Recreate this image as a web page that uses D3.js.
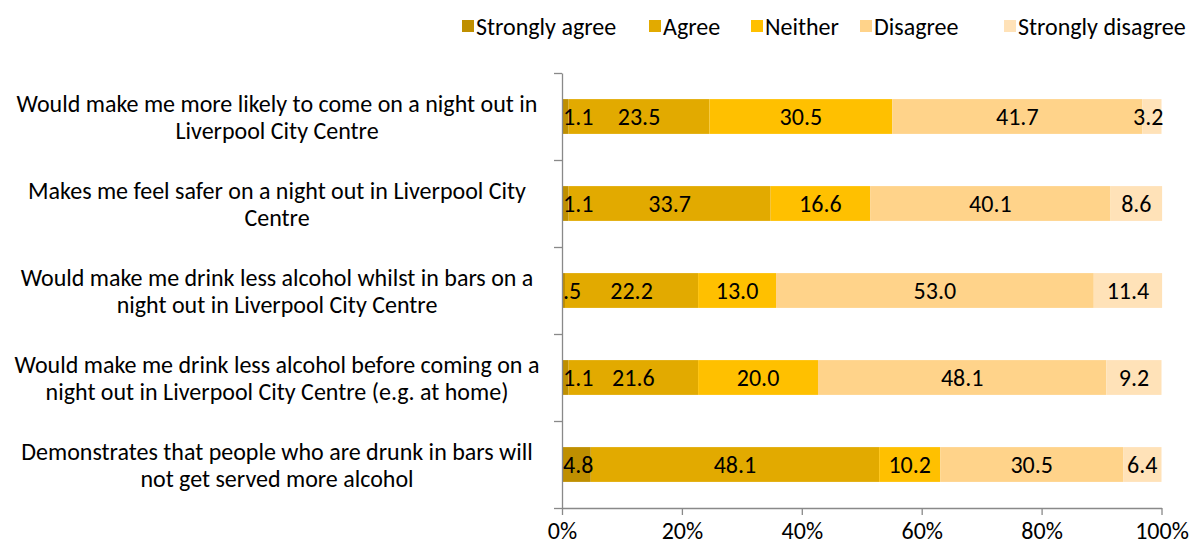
<!DOCTYPE html>
<html>
<head>
<meta charset="utf-8">
<script src="https://cdn.jsdelivr.net/npm/d3@7"></script>
<style>
  body { margin: 0; background: #fff; }
  text { font-family: Carlito, Calibri, "Open Sans", "Liberation Sans", sans-serif; fill: #000; }
</style>
</head>
<body>
<svg id="chart" width="1197" height="548"></svg>
<script>
// Survey statements (top to bottom), each split into two display lines
const statements = [
  ["Would make me more likely to come on a night out in", "Liverpool City Centre"],
  ["Makes me feel safer on a night out in Liverpool City", "Centre"],
  ["Would make me drink less alcohol whilst in bars on a", "night out in Liverpool City Centre"],
  ["Would make me drink less alcohol before coming on a", "night out in Liverpool City Centre (e.g. at home)"],
  ["Demonstrates that people who are drunk in bars will", "not get served more alcohol"]
];
const responses = ["Strongly agree", "Agree", "Neither", "Disagree", "Strongly disagree"];

// Percentage of respondents per response, one array per statement row
const stronglyAgree    = [1.1, 1.1, 0.5, 1.1, 4.8];
const agree            = [23.5, 33.7, 22.2, 21.6, 48.1];
const neither          = [30.5, 16.6, 13.0, 20.0, 10.2];
const disagree         = [41.7, 40.1, 53.0, 48.1, 30.5];
const stronglyDisagree = [3.2, 8.6, 11.4, 9.2, 6.4];

const valueLabels = [
  ["1.1", "23.5", "30.5", "41.7", "3.2"],
  ["1.1", "33.7", "16.6", "40.1", "8.6"],
  [".5", "22.2", "13.0", "53.0", "11.4"],
  ["1.1", "21.6", "20.0", "48.1", "9.2"],
  ["4.8", "48.1", "10.2", "30.5", "6.4"]
];
const tickValues = [0, 20, 40, 60, 80, 100];

const colors = ["#BF8F00", "#E2AA00", "#FFC000", "#FFD38A", "#FFE2B8"];

const seriesValues = [stronglyAgree, agree, neither, disagree, stronglyDisagree];
const rows = statements.map((s, i) => {
  const r = { idx: i };
  responses.forEach((k, j) => { r[k] = seriesValues[j][i]; });
  return r;
});

const svg = d3.select("#chart");
const plot = { left: 562, right: 1161.5, top: 73, bottom: 508 };
const fs = 24;

const x = d3.scaleLinear().domain([0, 100]).range([plot.left, plot.right]);
const y = d3.scaleBand().domain(d3.range(statements.length))
  .range([plot.top, plot.bottom]).paddingInner(0.6).paddingOuter(0.3);

const series = d3.stack().keys(responses)(rows);

const g = svg.append("g");
series.forEach((s, j) => {
  g.selectAll(null).data(s).enter().append("rect")
    .attr("x", d => x(d[0]))
    .attr("y", (d, i) => y(i))
    .attr("width", d => x(d[1]) - x(d[0]))
    .attr("height", y.bandwidth())
    .attr("fill", colors[j]);
});

// Value labels centred on each segment, kept inside the plot edges
series.forEach((s, j) => {
  g.selectAll(null).data(s).enter().append("text")
    .attr("x", d => x((d[0] + d[1]) / 2))
    .attr("y", (d, i) => y(i) + y.bandwidth() / 2)
    .attr("dy", "0.36em")
    .attr("text-anchor", "middle")
    .style("font-size", fs + "px")
    .text((d, i) => valueLabels[i][j])
    .each(function () {
      const bb = this.getBBox();
      const sel = d3.select(this);
      if (bb.x < plot.left + 1) sel.attr("x", +sel.attr("x") + (plot.left + 1 - bb.x));
      else if (bb.x + bb.width > plot.right + 2) sel.attr("x", +sel.attr("x") - (bb.x + bb.width - plot.right - 2));
    });
});

// Horizontal axis with outward ticks
const xAxis = d3.axisBottom(x).tickValues(tickValues).tickFormat(d => d + "%").tickSize(7).tickSizeOuter(0);
const ax = svg.append("g").attr("transform", `translate(0,${plot.bottom})`).call(xAxis);
ax.select(".domain").attr("stroke", "#898989").attr("stroke-width", 1.3);
ax.selectAll(".tick line").attr("stroke", "#898989").attr("stroke-width", 1.3);
ax.selectAll(".tick text").attr("font-family", null).style("font-size", fs + "px").attr("dy", null).attr("y", 31);

// Vertical axis with ticks at category boundaries
const yb = d3.scaleLinear().domain([0, statements.length]).range([plot.top, plot.bottom]);
const yAxis = d3.axisLeft(yb).tickValues(d3.range(statements.length + 1)).tickFormat("").tickSize(8).tickSizeOuter(0);
const ay = svg.append("g").attr("transform", `translate(${plot.left},0)`).call(yAxis);
ay.select(".domain").attr("stroke", "#898989").attr("stroke-width", 1.3);
ay.selectAll(".tick line").attr("stroke", "#898989").attr("stroke-width", 1.3);

// Statement labels
const labelX = 277;
statements.forEach((lines, i) => {
  const cy = y(i) + y.bandwidth() / 2;
  const t = svg.append("text").attr("text-anchor", "middle").style("font-size", fs + "px");
  lines.forEach((ln, k) => {
    t.append("tspan").attr("x", labelX).attr("y", cy + (k - 0.5) * 27).attr("dy", "0.36em").text(ln);
  });
});

// Legend
const legendX = [462, 649, 751, 860, 1004];
const leg = svg.append("g");
responses.forEach((r, j) => {
  leg.append("rect").attr("x", legendX[j]).attr("y", 20).attr("width", 12).attr("height", 12).attr("fill", colors[j]);
  leg.append("text").attr("x", legendX[j] + 14).attr("y", 26).attr("dy", "0.36em")
    .style("font-size", fs + "px").text(r);
});
</script>
</body>
</html>
